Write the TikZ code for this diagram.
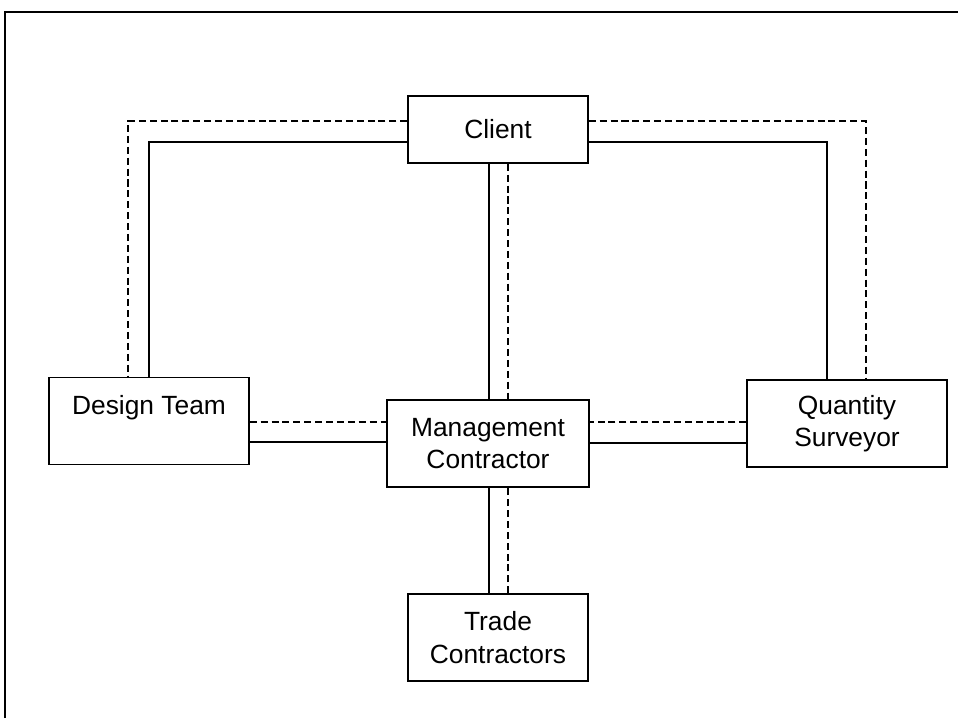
\documentclass[tikz,border=0pt]{standalone}
\usepackage{fontspec}
\setmainfont{Liberation Sans}
\begin{document}
\begin{tikzpicture}[x=0.02cm,y=-0.02cm,
  boxnode/.style={draw,line width=0.9pt,inner sep=0pt,align=center,
    font=\fontsize{15}{18.5}\selectfont},
  solidline/.style={line width=0.9pt},
  dashline/.style={line width=0.9pt,dash pattern=on 4pt off 2.2pt}]
\useasboundingbox (0,0) rectangle (958,718);
% frame
\draw[line width=0.8pt] (5,718) -- (5,12) -- (958,12);
% nodes
\node[boxnode,minimum width=180*0.02cm,minimum height=67*0.02cm] (cl) at (498,129.5) {Client};
\node[boxnode,minimum width=200*0.02cm,minimum height=87*0.02cm] (dt) at (149,421) {Design Team\\\mbox{}};
\node[boxnode,minimum width=202*0.02cm,minimum height=87*0.02cm] (mc) at (488,443.5) {Management\\Contractor};
\node[boxnode,minimum width=200*0.02cm,minimum height=87*0.02cm] (qs) at (847,423.5) {Quantity\\Surveyor};
\node[boxnode,minimum width=180*0.02cm,minimum height=87*0.02cm] (tc) at (498,637.5) {Trade\\Contractors};
% client - design team
\draw[dashline] ([yshift=8.5*0.02cm]cl.west) -| ([xshift=-21*0.02cm]dt.north);
\draw[solidline] ([yshift=-12.5*0.02cm]cl.west) -| (dt.north);
% client - quantity surveyor
\draw[dashline] ([yshift=8.5*0.02cm]cl.east) -| ([xshift=19*0.02cm]qs.north);
\draw[solidline] ([yshift=-12.5*0.02cm]cl.east) -| ([xshift=-20*0.02cm]qs.north);
% client - management contractor
\draw[solidline] ([xshift=-9*0.02cm]cl.south) -- ([xshift=-9*0.02cm]cl.south |- mc.north);
\draw[dashline] ([xshift=10*0.02cm]cl.south) -- ([xshift=10*0.02cm]cl.south |- mc.north);
% management contractor - trade contractors
\draw[solidline] ([xshift=-9*0.02cm]tc.north) -- ([xshift=-9*0.02cm]tc.north |- mc.south);
\draw[dashline] ([xshift=10*0.02cm]tc.north) -- ([xshift=10*0.02cm]tc.north |- mc.south);
% design team - management contractor
\draw[dashline] ([yshift=-1*0.02cm]dt.east) -- ([yshift=-1*0.02cm]dt.east -| mc.west);
\draw[solidline] ([yshift=-21*0.02cm]dt.east) -- ([yshift=-21*0.02cm]dt.east -| mc.west);
% management contractor - quantity surveyor
\draw[dashline] ([yshift=1.5*0.02cm]qs.west) -- ([yshift=1.5*0.02cm]qs.west -| mc.east);
\draw[solidline] ([yshift=-19.5*0.02cm]qs.west) -- ([yshift=-19.5*0.02cm]qs.west -| mc.east);
\end{tikzpicture}
\end{document}
